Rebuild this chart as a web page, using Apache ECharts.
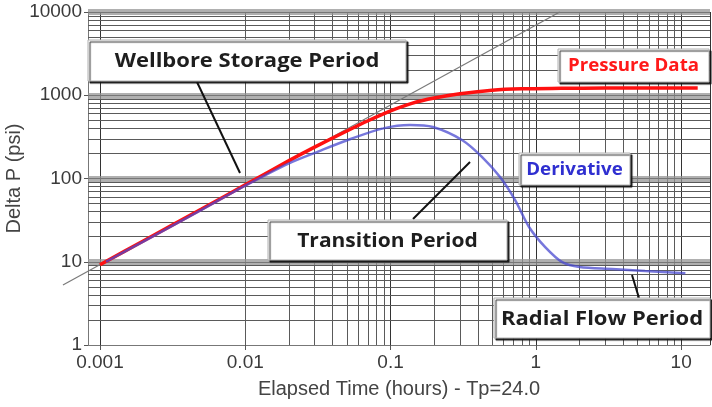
<!DOCTYPE html>
<html>
<head>
<meta charset="utf-8">
<script src="https://cdn.jsdelivr.net/npm/echarts@6/dist/echarts.min.js"></script>
<style>
  html, body { margin: 0; padding: 0; background: #fff; }
  #chart { width: 712px; height: 407px; }
</style>
</head>
<body>
<div id="chart"></div>
<script>
// pressure data (hours, psi)
var pressureTime = [0.001, 0.002, 0.005, 0.01, 0.02, 0.03, 0.05, 0.07, 0.1, 0.14, 0.2, 0.3, 0.5, 0.8, 1.5, 3, 6, 13];
var pressureValue = [9.2, 17.9, 43, 84, 164, 238, 372, 494, 650, 800, 925, 1040, 1150, 1195, 1210, 1220, 1222, 1222];

// derivative
var derivTime = [0.0011, 0.002, 0.005, 0.01, 0.02, 0.032, 0.053, 0.089, 0.136, 0.196, 0.31, 0.427, 0.567, 0.72, 0.9, 1.16, 1.52, 2.0, 3.35, 5.65, 10.7];
var derivValue = [10, 17.6, 42, 82, 152, 212, 298, 400, 439, 415, 290, 181, 104, 55, 26, 15, 9.9, 8.65, 8.2, 7.75, 7.3];

// unit slope guide line
var slopeTime = [0.000556, 1.46];
var slopeValue = [5.26, 10000];

// axis decades
var xDecades = [0.0001, 0.001, 0.01, 0.1, 1];
var yDecades = [1, 10, 100, 1000];
var yBands = [10, 100, 1000, 10000];
var minorSteps = [2, 3, 4, 5, 6, 7, 8, 9];

var xMin = 0.000827, xMax = 15.8;

function pairs(xs, ys) {
  return xs.map(function (x, i) { return [x, ys[i]]; });
}

var gridLines = [];
xDecades.forEach(function (d) {
  minorSteps.forEach(function (m) {
    var v = d * m;
    if (v > xMin && v < xMax) {
      gridLines.push({ xAxis: v, lineStyle: { color: '#5a5a5a', width: 1, type: 'solid' } });
    }
  });
});
yDecades.forEach(function (d) {
  minorSteps.forEach(function (m) {
    gridLines.push({ yAxis: d * m, lineStyle: { color: '#5a5a5a', width: 1, type: 'solid' } });
  });
});
yBands.forEach(function (v) {
  gridLines.push({ yAxis: v, lineStyle: { color: 'rgba(150,150,150,0.75)', width: 6, type: 'solid' } });
  gridLines.push({ yAxis: v, lineStyle: { color: '#777', width: 1, type: 'solid' } });
});

var labelFont = { fontFamily: 'Liberation Sans', fontSize: 19, color: '#3a3a3a' };
var nameFont = { fontFamily: 'Liberation Sans', fontSize: 20, color: '#444' };

var myChart = echarts.init(document.getElementById('chart'));

var boxStyle = {
  fill: '#fff',
  stroke: '#b0b0b0',
  lineWidth: 1,
  shadowColor: 'rgba(20,20,20,0.9)',
  shadowBlur: 1,
  shadowOffsetX: 2,
  shadowOffsetY: 2
};

function box(x, y, w, h, text, color, size, sx) {
  return [
    { type: 'rect', shape: { x: x, y: y, width: w, height: h }, style: boxStyle, z: 100 },
    {
      type: 'text', x: x + w / 2, y: y + h / 2 + 1, z: 101, scaleX: sx,
      style: {
        text: text, fill: color, align: 'center', verticalAlign: 'middle',
        font: 'bold ' + size + 'px "Open Sans"'
      }
    }
  ];
}

function pointer(x1, y1, x2, y2) {
  return {
    type: 'line', z: 99,
    shape: { x1: x1, y1: y1, x2: x2, y2: y2 },
    style: { stroke: '#111', lineWidth: 2 }
  };
}

var option = {
  animation: false,
  backgroundColor: '#fff',
  grid: { left: 88, right: 2, top: 12, bottom: 62, containLabel: false, outerBoundsMode: 'none' },
  xAxis: {
    type: 'log',
    logBase: 10,
    min: xMin,
    max: xMax,
    name: 'Elapsed Time (hours) - Tp=24.0',
    nameLocation: 'middle',
    nameGap: 34,
    nameMoveOverlap: false,
    nameTextStyle: nameFont,
    axisLine: { show: true, lineStyle: { color: '#777', width: 1 } },
    axisTick: { show: true, length: 5, lineStyle: { color: '#555' } },
    axisLabel: Object.assign({
      showMinLabel: false,
      showMaxLabel: false,
      margin: 8,
      formatter: function (v) { return String(+(+v).toPrecision(6)); }
    }, labelFont),
    splitLine: { show: true, lineStyle: { color: '#333', width: 1 } }
  },
  yAxis: {
    type: 'log',
    logBase: 10,
    min: 1,
    max: 10000,
    name: 'Delta P (psi)',
    nameLocation: 'middle',
    nameGap: 64,
    nameMoveOverlap: false,
    nameTextStyle: nameFont,
    axisLine: { show: true, lineStyle: { color: '#777', width: 1 } },
    axisTick: { show: true, length: 4, lineStyle: { color: '#555' } },
    axisLabel: Object.assign({
      margin: 6,
      formatter: function (v) { return String(Math.round(v)); }
    }, labelFont),
    splitLine: { show: false }
  },
  series: [
    {
      name: 'Unit slope',
      type: 'line',
      data: pairs(slopeTime, slopeValue),
      showSymbol: false,
      clip: false,
      silent: true,
      lineStyle: { color: '#7a7a7a', width: 1.2, opacity: 0 },
      markLine: {
        silent: true,
        symbol: 'none',
        z: 1,
        label: { show: false },
        data: gridLines
      },
      z: 2
    },
    {
      name: 'Pressure Data',
      type: 'line',
      data: pairs(pressureTime, pressureValue),
      showSymbol: false,
      smooth: 0.3,
      lineStyle: { color: '#ff1010', width: 3.5 },
      z: 6
    },
    {
      name: 'Derivative',
      type: 'line',
      data: pairs(derivTime, derivValue),
      showSymbol: false,
      smooth: 0.3,
      lineStyle: { color: '#4a4ad0', width: 2.5, opacity: 0.75 },
      z: 7
    }
  ]
};

myChart.setOption(option);

// guide line drawn through the chart's own scale, allowed to run past the left edge
var p0 = myChart.convertToPixel({ gridIndex: 0 }, [slopeTime[0], slopeValue[0]]);
var p1 = myChart.convertToPixel({ gridIndex: 0 }, [slopeTime[1], slopeValue[1]]);

var graphics = [].concat(
  [{
    type: 'line', z: 5, silent: true,
    shape: { x1: p0[0], y1: p0[1], x2: p1[0], y2: p1[1] },
    style: { stroke: '#7a7a7a', lineWidth: 1.2 }
  }],
  [pointer(197, 82, 240, 173), pointer(413, 219, 470, 162), pointer(632, 275, 639, 298)],
  box(88, 40, 318, 41, 'Wellbore Storage Period', '#1e1e1e', 20, 1.1),
  box(558, 49, 151, 33, 'Pressure Data', '#ff1a1a', 17, 1.1),
  box(519, 153, 111, 32, 'Derivative', '#2f2fd0', 17, 1.1),
  box(268, 220, 239, 40, 'Transition Period', '#1e1e1e', 20, 1.05),
  box(494, 298, 216, 40, 'Radial Flow Period', '#1e1e1e', 20, 1.1)
);

myChart.setOption({ graphic: graphics });
</script>
</body>
</html>
